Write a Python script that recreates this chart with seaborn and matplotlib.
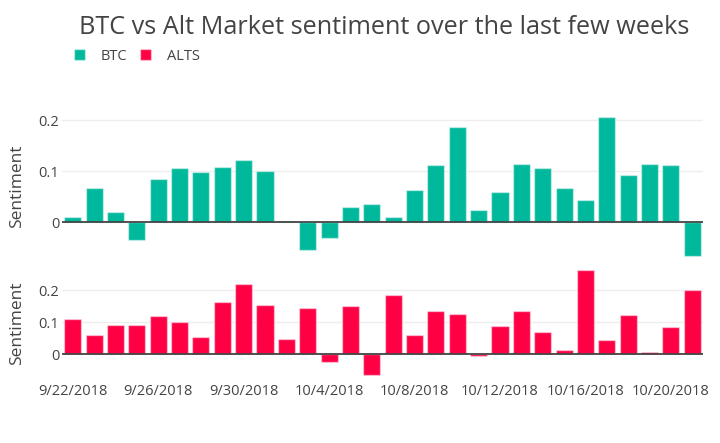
import matplotlib
matplotlib.use("Agg")
import matplotlib.pyplot as plt
from matplotlib.patches import Patch
import seaborn as sns
import pandas as pd

dates = ["9/22/2018", "9/23/2018", "9/24/2018", "9/25/2018", "9/26/2018", "9/27/2018",
         "9/28/2018", "9/29/2018", "9/30/2018", "10/1/2018", "10/2/2018", "10/3/2018",
         "10/4/2018", "10/5/2018", "10/6/2018", "10/7/2018", "10/8/2018", "10/9/2018",
         "10/10/2018", "10/11/2018", "10/12/2018", "10/13/2018", "10/14/2018", "10/15/2018",
         "10/16/2018", "10/17/2018", "10/18/2018", "10/19/2018", "10/20/2018", "10/21/2018"]

btc = [0.0105, 0.068, 0.0196, -0.035, 0.084, 0.106, 0.098, 0.108, 0.122, 0.1006,
       0.002, -0.054, -0.031, 0.030, 0.0366, 0.0098, 0.063, 0.113, 0.187, 0.024,
       0.059, 0.114, 0.106, 0.067, 0.044, 0.206, 0.092, 0.114, 0.112, -0.067]

alts = [0.110, 0.060, 0.093, 0.091, 0.119, 0.101, 0.055, 0.164, 0.220, 0.154,
        0.048, 0.144, -0.023, 0.151, -0.065, 0.186, 0.059, 0.134, 0.126, -0.006,
        0.089, 0.135, 0.071, 0.015, 0.2625, 0.045, 0.122, 0.007, 0.084, 0.201]

tick_labels = ["9/22/2018", "9/26/2018", "9/30/2018", "10/4/2018",
               "10/8/2018", "10/12/2018", "10/16/2018", "10/20/2018"]

BTC_COLOR = "#00b89c"
ALT_COLOR = "#ff0044"
TEXT = "#444444"

sns.set_theme(style="white")
plt.rcParams["font.family"] = ["Open Sans", "DejaVu Sans"]

W, H = 720, 443
fig = plt.figure(figsize=(W / 100, H / 100), dpi=100)

def px_axes(left, top, right, bottom):
    return fig.add_axes([left / W, 1 - bottom / H, (right - left) / W, (bottom - top) / H])

ax1 = px_axes(62, 112.6, 703, 260.5)
ax2 = px_axes(62, 266.3, 703, 379.9)

df = pd.DataFrame({"date": dates, "BTC": btc, "ALTS": alts})

for ax, col, color, lim in [(ax1, "BTC", BTC_COLOR, (-0.075, 0.215)),
                            (ax2, "ALTS", ALT_COLOR, (-0.08, 0.275))]:
    sns.barplot(data=df, x="date", y=col, order=dates, color=color, saturation=1,
                width=0.8, edgecolor=(1, 1, 1, 0.45), linewidth=1.0, ax=ax, zorder=3)
    ax.set_ylim(*lim)
    ax.set_xlim(-0.5, len(dates) - 0.5)
    for s in ax.spines.values():
        s.set_visible(False)
    ax.set_yticks([0, 0.1, 0.2])
    ax.set_yticklabels(["0", "0.1", "0.2"])
    for y in [0.1, 0.2]:
        ax.axhline(y, color="#eeeeee", lw=1, zorder=1)
    ax.axhline(0, color=TEXT, lw=1.3, zorder=4)
    ax.tick_params(axis="y", length=0, labelsize=10.5, colors=TEXT, pad=2)
    ax.set_ylabel("Sentiment", fontsize=12.5, color=TEXT, labelpad=10)
    ax.set_xlabel("")

ax1.set_xticks([])
idx = [dates.index(t) for t in tick_labels]
ax2.set_xticks(idx)
ax2.set_xticklabels(tick_labels)
ax2.tick_params(axis="x", length=0, labelsize=10.5, colors=TEXT, pad=3)

fig.text(384 / W, 1 - 27 / H, "BTC vs Alt Market sentiment over the last few weeks",
         ha="center", va="center", fontsize=18.2, color=TEXT)

handles = [Patch(facecolor=BTC_COLOR, edgecolor=(1, 1, 1, 0.45), label="BTC"),
           Patch(facecolor=ALT_COLOR, edgecolor=(1, 1, 1, 0.45), label="ALTS")]
leg = fig.legend(handles=handles, loc="center left", bbox_to_anchor=(74 / W, 1 - 56 / H),
                 ncol=2, frameon=False, fontsize=10.5, handlelength=0.75, handleheight=0.75,
                 handletextpad=1.1, columnspacing=0.85, borderaxespad=0, borderpad=0)
for t in leg.get_texts():
    t.set_color(TEXT)

fig.savefig("out.png", dpi=100, facecolor="white")
